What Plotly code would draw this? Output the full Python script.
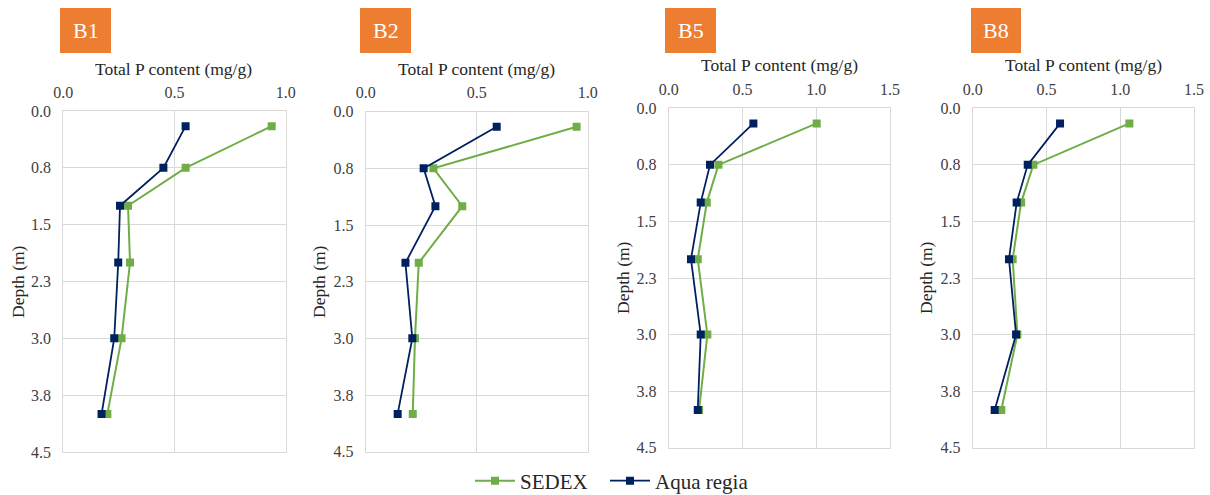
import plotly.graph_objects as go

depth = [0.2, 0.75, 1.25, 2.0, 3.0, 4.0]
panels = ["B1", "B2", "B5", "B8"]
sedex = {
    "B1": [0.937, 0.55, 0.291, 0.30, 0.262, 0.198],
    "B2": [0.95, 0.305, 0.435, 0.239, 0.222, 0.212],
    "B5": [1.003, 0.337, 0.258, 0.197, 0.262, 0.206],
    "B8": [1.062, 0.411, 0.328, 0.271, 0.303, 0.194],
}
aqua = {
    "B1": [0.55, 0.45, 0.255, 0.247, 0.229, 0.172],
    "B2": [0.59, 0.261, 0.314, 0.179, 0.21, 0.144],
    "B5": [0.574, 0.28, 0.217, 0.151, 0.217, 0.197],
    "B8": [0.592, 0.373, 0.298, 0.246, 0.294, 0.149],
}
xmax = {"B1": 1.0, "B2": 1.0, "B5": 1.5, "B8": 1.5}
ytick_vals = [0, 0.75, 1.5, 2.25, 3.0, 3.75, 4.5]
ytick_text = ["0.0", "0.8", "1.5", "2.3", "3.0", "3.8", "4.5"]
x_title = "Total P content (mg/g)"
y_title = "Depth (m)"

W, H = 1210, 495
# plot-area pixel boxes (left, right, top, bottom)
boxes = {
    "B1": (63.3, 285.7, 111.0, 452.0),
    "B2": (365.7, 587.7, 111.7, 451.7),
    "B5": (668.7, 890.0, 108.3, 447.7),
    "B8": (972.7, 1194.0, 108.3, 447.7),
}
tags = {"B1": (60, 111), "B2": (360, 411), "B5": (665, 716), "B8": (971, 1021)}
ytitle_pos = {"B1": (18, 282), "B2": (319, 282), "B5": (623, 278), "B8": (926, 278)}
xtitle_pos = {"B1": (174, 69), "B2": (476, 69), "B5": (779, 65), "B8": (1083, 65)}

GREEN = "#70AD47"
NAVY = "#002060"
ORANGE = "#ED7D31"
FONT = "Liberation Serif, DejaVu Serif, serif"
CLEAR = "rgba(0,0,0,0)"

fig = go.Figure()
layout = dict(width=W, height=H, margin=dict(l=0, r=0, t=0, b=0, autoexpand=False),
              paper_bgcolor="white", plot_bgcolor="white",
              font=dict(family=FONT, color="#404040"))
shapes, annotations = [], []

for i, p in enumerate(panels):
    n = "" if i == 0 else str(i + 1)
    l, r, t, b = boxes[p]
    layout["xaxis" + n] = dict(
        domain=[l / W, r / W], range=[0, xmax[p]], dtick=0.5, tickformat=".1f",
        side="top", anchor="y" + n, showgrid=True, gridcolor="#D9D9D9",
        showline=True, linecolor="#D9D9D9", mirror=True, zeroline=False,
        tickfont=dict(size=16, color="#404040", family=FONT),
        ticks="outside", ticklen=6, tickcolor=CLEAR,
        fixedrange=True, automargin=False)
    layout["yaxis" + n] = dict(
        domain=[1 - b / H, 1 - t / H], range=[4.5, 0], tickvals=ytick_vals,
        ticktext=ytick_text, anchor="x" + n, showgrid=True, gridcolor="#D9D9D9",
        showline=True, linecolor="#D9D9D9", mirror=True, zeroline=False,
        tickfont=dict(size=16, color="#404040", family=FONT),
        ticks="outside", ticklen=8, tickcolor=CLEAR,
        fixedrange=True, automargin=False)
    fig.add_trace(go.Scatter(
        x=sedex[p], y=depth, xaxis="x" + n, yaxis="y" + n, mode="lines+markers",
        name="SEDEX", legend="legend", showlegend=(i == 0),
        line=dict(color=GREEN, width=2), marker=dict(symbol="square", size=8, color=GREEN)))
    fig.add_trace(go.Scatter(
        x=aqua[p], y=depth, xaxis="x" + n, yaxis="y" + n, mode="lines+markers",
        name="Aqua regia", legend="legend2", showlegend=(i == 0),
        line=dict(color=NAVY, width=1.8), marker=dict(symbol="square", size=8, color=NAVY)))
    x0, x1 = tags[p]
    shapes.append(dict(type="rect", xref="paper", yref="paper",
                       x0=x0 / W, x1=x1 / W, y0=1 - 53 / H, y1=1 - 8 / H,
                       fillcolor=ORANGE, line=dict(width=0)))
    annotations.append(dict(text=p, xref="paper", yref="paper",
                            x=(x0 + x1) / 2 / W, y=1 - 31 / H, showarrow=False,
                            xanchor="center", yanchor="middle",
                            font=dict(size=22, color="white", family=FONT)))
    tx, ty = xtitle_pos[p]
    annotations.append(dict(text=x_title, xref="paper", yref="paper",
                            x=tx / W, y=1 - ty / H, showarrow=False,
                            xanchor="center", yanchor="middle",
                            font=dict(size=17.5, color="#262626", family=FONT)))
    yx, yy = ytitle_pos[p]
    annotations.append(dict(text=y_title, xref="paper", yref="paper",
                            x=yx / W, y=1 - yy / H, showarrow=False, textangle=-90,
                            xanchor="center", yanchor="middle",
                            font=dict(size=17.5, color="#262626", family=FONT)))

layout["shapes"] = shapes
layout["annotations"] = annotations
leg = dict(orientation="h", y=1 - 481 / H, xanchor="left", yanchor="middle",
           font=dict(size=21, color="#262626", family=FONT), bgcolor=CLEAR, itemwidth=40)
layout["legend"] = dict(leg, x=470 / W)
layout["legend2"] = dict(leg, x=605 / W)
fig.update_layout(**layout)
fig.write_html("out.html")
